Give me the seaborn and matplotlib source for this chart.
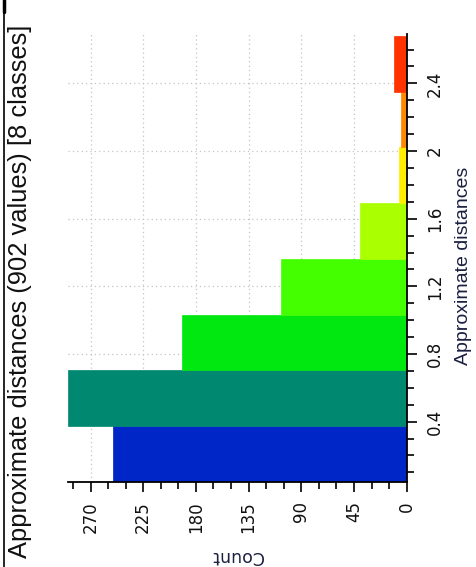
import matplotlib
matplotlib.use("Agg")
import matplotlib.pyplot as plt
from matplotlib.lines import Line2D
from matplotlib.ticker import MultipleLocator
import pandas as pd
import seaborn as sns

# Class limits (distance units) and number of values per class
class_edges = [0.045, 0.374, 0.704, 1.033, 1.363, 1.692, 2.021, 2.351, 2.680]
class_counts = [251, 289, 192, 107, 40, 7, 5, 11]
class_colors = ["#0026c8", "#008870", "#00e810", "#44ff00",
                "#aaff00", "#ffee00", "#ff8800", "#ff3300"]
distance_ticks = [0.4, 0.8, 1.2, 1.6, 2.0, 2.4]
count_ticks = [0, 45, 90, 135, 180, 225, 270]
title = "Approximate distances (902 values) [8 classes]"

centers = [(lo + hi) / 2 for lo, hi in zip(class_edges[:-1], class_edges[1:])]
df = pd.DataFrame({"distance": centers, "count": class_counts})

sns.set_theme(style="white")
plt.rcParams["font.family"] = ["DejaVu Sans"]

W, H = 476, 567
fig = plt.figure(figsize=(W / 100, H / 100), dpi=100)
left, right, top, bottom = 68.3, 406.7, 34.3, 481.7
ax = fig.add_axes([left / W, 1 - bottom / H, (right - left) / W, (bottom - top) / H])

sns.histplot(data=df, y="distance", weights="count", bins=class_edges,
             ax=ax, element="bars", linewidth=0, alpha=1)
for patch, col in zip(ax.patches, class_colors):
    patch.set_facecolor(col)
    patch.set_edgecolor(col)
    patch.set_linewidth(0.5)
    patch.set_zorder(2)

# Counts run from right to left, distances bottom to top
ax.set_xlim(289, 0)
ax.set_ylim(class_edges[0], 2.69)
ax.yaxis.tick_right()

ax.set_xticks(count_ticks)
ax.set_xticklabels([str(v) for v in count_ticks], rotation=90, va="top", ha="center")
ax.set_yticks(distance_ticks)
ax.set_yticklabels([f"{v:g}" for v in distance_ticks], rotation=90, va="center", ha="left")
ax.xaxis.set_minor_locator(MultipleLocator(15))
ax.yaxis.set_minor_locator(MultipleLocator(0.1))

ax.tick_params(axis="both", which="major", direction="out", length=7, width=1.2,
               color="black", labelsize=12, labelcolor="#111111", pad=7)
ax.tick_params(axis="both", which="minor", direction="out", length=5, width=1.2,
               color="black")
ax.tick_params(axis="x", which="both", bottom=True, top=False)
ax.tick_params(axis="y", which="both", right=True, left=False)

ax.grid(True, which="major", color="#c4c4c4", linestyle=(0, (1, 2.5)), linewidth=0.9)
ax.set_axisbelow(True)

for side in ("left", "top"):
    ax.spines[side].set_visible(False)
for side in ("right", "bottom"):
    ax.spines[side].set_color("black")
    ax.spines[side].set_linewidth(1.3)

ax.set_xlabel("")
ax.set_ylabel("")

fig.text(237 / W, 1 - 556 / H, "Count", rotation=180, ha="center", va="center",
         fontsize=12.5, color="#1a2040")
fig.text(464 / W, 1 - 266 / H, "Approximate distances", rotation=90,
         ha="center", va="center", fontsize=14, color="#1a2040",
         family=["Liberation Sans"])
fig.text(20 / W, 1 - 25 / H, title, rotation=90, ha="center", va="top",
         fontsize=18.4, color="#111111", family=["Liberation Sans"])

# Frame edge on the left
fig.add_artist(Line2D([3.5 / W, 3.5 / W], [0, 1], transform=fig.transFigure,
                      color="black", linewidth=1.2))
fig.add_artist(Line2D([4 / W, 4 / W], [1 - 12 / H, 1], transform=fig.transFigure,
                      color="black", linewidth=2.5))

fig.savefig("out.png", dpi=100, facecolor="white")
